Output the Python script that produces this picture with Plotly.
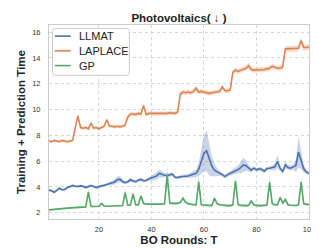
import plotly.graph_objects as go

rounds = list(range(1, 101))

llmat_mean = [3.75, 3.70, 3.58, 3.72, 3.90, 3.78, 3.80, 3.95, 4.02, 4.10,
              4.05, 4.03, 4.08, 4.05, 3.95, 4.00, 4.10, 4.02, 3.95, 4.02,
              4.05, 4.12, 4.18, 4.25, 4.30, 4.38, 4.55, 4.60, 4.42, 4.32,
              4.40, 4.55, 4.45, 4.40, 4.52, 4.58, 4.48, 4.50, 4.62, 4.68,
              4.75, 4.85, 5.05, 4.95, 4.90, 4.88, 4.92, 4.98, 4.75, 4.72,
              4.78, 4.80, 4.82, 4.85, 4.92, 4.98, 5.05, 5.35, 5.90, 6.60,
              6.80, 6.20, 5.60, 5.30, 5.15, 5.05, 4.95, 4.80, 4.95, 5.05,
              5.12, 5.25, 5.35, 5.50, 5.70, 5.65, 5.45, 5.30, 5.45, 5.32,
              5.40, 5.35, 5.22, 5.42, 5.45, 5.48, 5.55, 5.95, 5.45, 5.20,
              5.70, 5.50, 5.45, 5.55, 5.65, 6.70, 6.10, 5.40, 5.15, 5.05]
llmat_std = [0.10, 0.10, 0.10, 0.10, 0.12, 0.10, 0.10, 0.10, 0.10, 0.10,
             0.10, 0.10, 0.10, 0.10, 0.10, 0.10, 0.10, 0.10, 0.10, 0.10,
             0.10, 0.10, 0.10, 0.12, 0.15, 0.20, 0.25, 0.22, 0.15, 0.12,
             0.12, 0.15, 0.12, 0.12, 0.12, 0.15, 0.12, 0.12, 0.15, 0.20,
             0.25, 0.30, 0.30, 0.25, 0.15, 0.15, 0.15, 0.15, 0.12, 0.12,
             0.12, 0.12, 0.15, 0.15, 0.20, 0.25, 0.30, 0.50, 0.90, 1.40,
             1.60, 1.30, 0.80, 0.50, 0.30, 0.20, 0.15, 0.15, 0.15, 0.18,
             0.20, 0.25, 0.30, 0.45, 0.55, 0.40, 0.25, 0.18, 0.15, 0.15,
             0.15, 0.15, 0.15, 0.15, 0.15, 0.18, 0.30, 0.50, 0.25, 0.15,
             0.30, 0.20, 0.20, 0.20, 0.50, 1.20, 0.70, 0.30, 0.15, 0.12]

laplace_mean = [7.55, 7.50, 7.60, 7.55, 7.50, 7.60, 7.55, 7.50, 7.55, 7.60,
                8.60, 9.50, 8.60, 8.55, 8.60, 8.50, 8.95, 8.55, 8.60, 8.50,
                8.60, 8.70, 9.20, 8.70, 8.70, 8.65, 8.70, 8.65, 8.70, 8.80,
                9.40, 9.65, 9.65, 9.60, 9.70, 9.65, 10.30, 9.60, 9.70, 9.70,
                9.65, 9.70, 9.65, 9.70, 9.65, 9.70, 9.75, 9.70, 9.70, 9.80,
                11.20, 11.35, 11.30, 11.35, 11.30, 11.40, 11.65, 11.35, 11.40, 11.35,
                11.30, 11.25, 11.30, 11.35, 11.40, 11.40, 11.75, 11.45, 11.45, 11.50,
                12.90, 13.05, 12.95, 13.05, 13.15, 13.20, 13.40, 13.10, 13.05, 13.05,
                13.10, 13.05, 13.10, 13.15, 13.20, 13.35, 13.25, 13.20, 13.20, 13.30,
                14.70, 14.70, 14.75, 14.70, 14.70, 14.75, 15.35, 14.80, 14.80, 14.85]
laplace_std = [0.10, 0.10, 0.10, 0.10, 0.10, 0.10, 0.10, 0.10, 0.10, 0.10,
               0.15, 0.15, 0.15, 0.12, 0.12, 0.12, 0.15, 0.12, 0.12, 0.12,
               0.12, 0.12, 0.15, 0.12, 0.12, 0.12, 0.12, 0.12, 0.12, 0.15,
               0.15, 0.15, 0.15, 0.15, 0.15, 0.15, 0.18, 0.15, 0.15, 0.15,
               0.15, 0.15, 0.15, 0.15, 0.15, 0.15, 0.15, 0.15, 0.15, 0.15,
               0.18, 0.18, 0.18, 0.18, 0.18, 0.18, 0.20, 0.18, 0.18, 0.18,
               0.18, 0.18, 0.18, 0.18, 0.18, 0.18, 0.20, 0.18, 0.18, 0.18,
               0.20, 0.20, 0.20, 0.20, 0.20, 0.20, 0.22, 0.20, 0.20, 0.20,
               0.20, 0.20, 0.20, 0.20, 0.20, 0.20, 0.20, 0.20, 0.20, 0.20,
               0.22, 0.22, 0.22, 0.22, 0.22, 0.22, 0.25, 0.22, 0.22, 0.22]

gp_mean = [2.22, 2.23, 2.25, 2.27, 2.30, 2.32, 2.33, 2.35, 2.36, 2.37,
           2.38, 2.40, 2.42, 2.42, 2.45, 3.60, 2.48, 2.48, 2.50, 2.50,
           2.72, 2.52, 2.50, 2.50, 2.50, 2.50, 2.52, 2.52, 2.55, 3.55,
           2.58, 2.60, 3.45, 2.62, 2.60, 3.30, 2.72, 2.66, 2.65, 2.65,
           2.65, 2.65, 2.66, 2.66, 2.70, 4.90, 2.75, 2.72, 2.70, 2.72,
           2.80, 3.12, 2.82, 2.70, 2.66, 2.62, 2.60, 4.40, 2.62, 2.60,
           2.58, 2.56, 2.55, 3.12, 2.70, 2.62, 2.58, 2.55, 2.55, 2.55,
           2.60, 4.45, 2.62, 2.58, 2.55, 2.55, 2.58, 2.90, 2.60, 2.56,
           2.55, 2.55, 2.56, 2.60, 4.35, 2.70, 2.62, 2.60, 3.18, 2.75,
           3.02, 2.62, 2.58, 2.56, 2.56, 2.60, 4.38, 2.68, 2.63, 2.62]
gp_std = [0.05, 0.05, 0.05, 0.05, 0.05, 0.05, 0.05, 0.05, 0.05, 0.05,
          0.05, 0.05, 0.05, 0.05, 0.06, 0.30, 0.08, 0.06, 0.06, 0.06,
          0.10, 0.06, 0.06, 0.06, 0.06, 0.06, 0.06, 0.06, 0.08, 0.30,
          0.08, 0.08, 0.22, 0.08, 0.08, 0.22, 0.10, 0.06, 0.06, 0.06,
          0.06, 0.06, 0.06, 0.06, 0.10, 0.80, 0.12, 0.08, 0.08, 0.08,
          0.10, 0.15, 0.10, 0.08, 0.08, 0.08, 0.08, 0.70, 0.10, 0.08,
          0.08, 0.08, 0.08, 0.15, 0.10, 0.10, 0.10, 0.10, 0.10, 0.10,
          0.12, 0.30, 0.12, 0.12, 0.12, 0.12, 0.12, 0.12, 0.10, 0.10,
          0.08, 0.08, 0.08, 0.10, 0.60, 0.12, 0.10, 0.10, 0.15, 0.12,
          0.15, 0.10, 0.08, 0.08, 0.08, 0.10, 0.40, 0.10, 0.08, 0.08]

series_names = ["LLMAT", "LAPLACE", "GP"]
series_means = [llmat_mean, laplace_mean, gp_mean]
series_stds = [llmat_std, laplace_std, gp_std]
line_colors = ["#4C72B0", "#DD8452", "#55A868"]
band_colors = ["rgba(76,114,176,0.30)", "rgba(221,132,82,0.30)", "rgba(85,168,104,0.30)"]

x_ticks = [20, 40, 60, 80, 100]
y_ticks = [2, 4, 6, 8, 10, 12, 14, 16]

FONT = "Liberation Sans, Arial, sans-serif"

# plot-area geometry in pixels (for legend placement in paper coordinates)
W, H = 319, 248
ML, MR, MT, MB = 34.3, 12.3, 17.3, 33.3
PW, PH = W - ML - MR, H - MT - MB


def px_x(p):
    return (p - ML) / PW


def px_y(p):
    return (H - MB - p) / PH


fig = go.Figure()
for name, m, s, lc, bc in zip(series_names, series_means, series_stds, line_colors, band_colors):
    upper = [a + b for a, b in zip(m, s)]
    lower = [a - b for a, b in zip(m, s)]
    fig.add_trace(go.Scatter(
        x=rounds + rounds[::-1], y=upper + lower[::-1],
        fill="toself", fillcolor=bc, line=dict(width=0), mode="lines",
        hoverinfo="skip", showlegend=False))
    fig.add_trace(go.Scatter(
        x=rounds, y=m, mode="lines", name=name, showlegend=False,
        line=dict(color=lc, width=1.6)))

# legend box (rounded rectangle) drawn in paper coordinates
bx0, bx1, by0, by1 = px_x(38), px_x(118.5), px_y(68.5), px_y(20.8)
rx, ry = 3 / PW, 3 / PH
path = (f"M{bx0+rx},{by1} L{bx1-rx},{by1} Q{bx1},{by1} {bx1},{by1-ry} "
        f"L{bx1},{by0+ry} Q{bx1},{by0} {bx1-rx},{by0} L{bx0+rx},{by0} "
        f"Q{bx0},{by0} {bx0},{by0+ry} L{bx0},{by1-ry} Q{bx0},{by1} {bx0+rx},{by1} Z")
shapes = [dict(type="path", path=path, xref="paper", yref="paper",
               fillcolor="rgba(255,255,255,0.85)", line=dict(color="#cccccc", width=1),
               layer="above")]
annotations = []
for i, (name, lc) in enumerate(zip(series_names, line_colors)):
    yy = px_y(28.6 + 15 * i)
    shapes.append(dict(type="line", xref="paper", yref="paper",
                       x0=px_x(40.5), x1=px_x(57), y0=yy, y1=yy,
                       line=dict(color=lc, width=1.6), layer="above"))
    annotations.append(dict(text=name, xref="paper", yref="paper", x=px_x(63.5), y=yy,
                            xanchor="left", yanchor="middle", showarrow=False,
                            font=dict(size=11, color="#222222", family=FONT)))

fig.update_layout(
    width=W, height=H,
    margin=dict(l=ML, r=MR, t=MT, b=MB),
    paper_bgcolor="white", plot_bgcolor="white",
    font=dict(family=FONT, color="#222222"),
    title=dict(text="<b>Photovoltaics( ↓ )</b>", x=0.5, xref="paper",
               xanchor="center", y=1 - 9.5 / H, yref="container", yanchor="middle",
               font=dict(size=11.5, color="#222222")),
    showlegend=False,
    shapes=shapes,
    annotations=annotations,
)
fig.update_xaxes(
    range=[1, 100], tickvals=x_ticks, ticktext=[str(v) for v in x_ticks],
    showgrid=True, gridcolor="#d6d6d6", griddash="dot", gridwidth=1,
    showline=True, mirror=True, linecolor="#cccccc", linewidth=1,
    zeroline=False, ticks="", ticklabelstandoff=3,
    tickfont=dict(size=7.5, color="#333333"),
    title=dict(text="<b>BO Rounds: T</b>", font=dict(size=11.5, color="#222222"), standoff=2))
fig.update_yaxes(
    range=[1.51, 16.55], tickvals=y_ticks, ticktext=[str(v) for v in y_ticks],
    showgrid=True, gridcolor="#d6d6d6", griddash="dot", gridwidth=1,
    showline=True, mirror=True, linecolor="#cccccc", linewidth=1,
    zeroline=False, ticks="", ticklabelstandoff=6,
    tickfont=dict(size=7.5, color="#333333"),
    title=dict(text="<b>Training + Prediction Time</b>", font=dict(size=11.5, color="#222222"), standoff=4))

fig.write_html("out.html")
